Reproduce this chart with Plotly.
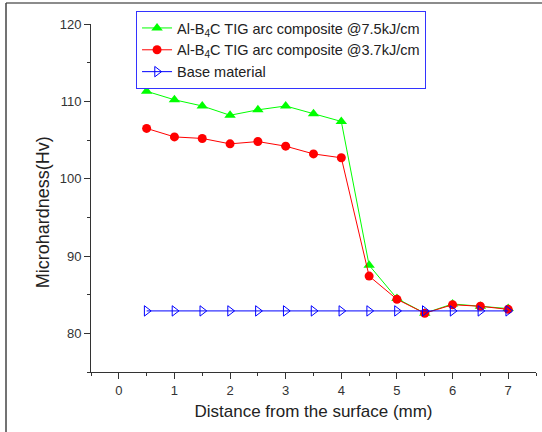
import plotly.graph_objects as go

x_vals = [0.5, 1, 1.5, 2, 2.5, 3, 3.5, 4, 4.5, 5, 5.5, 6, 6.5, 7]
hv_75 = [111.3, 110.2, 109.4, 108.2, 108.9, 109.4, 108.4, 107.4, 88.8, 84.5, 82.6, 83.8, 83.5, 83.2]
hv_37 = [106.5, 105.4, 105.2, 104.5, 104.8, 104.2, 103.2, 102.7, 87.4, 84.4, 82.6, 83.7, 83.5, 83.1]
hv_base = [82.9] * 14

names = ["Al-B<sub>4</sub>C TIG arc composite @7.5kJ/cm",
         "Al-B<sub>4</sub>C TIG arc composite @3.7kJ/cm",
         "Base material"]
x_title = "Distance from the surface (mm)"
y_title = "Microhardness(Hv)"

font = "Liberation Sans, Arial, sans-serif"
fig = go.Figure()
fig.add_trace(go.Scatter(x=x_vals, y=hv_75, name=names[0], mode="lines+markers",
                         line=dict(color="#00ff00", width=1),
                         marker=dict(symbol="triangle-up", size=10, color="#00ff00")))
fig.add_trace(go.Scatter(x=x_vals, y=hv_37, name=names[1], mode="lines+markers",
                         line=dict(color="#ff0000", width=1),
                         marker=dict(symbol="circle", size=9, color="#ff0000")))
fig.add_trace(go.Scatter(x=x_vals, y=hv_base, name=names[2], mode="lines+markers",
                         line=dict(color="#0000ff", width=1),
                         marker=dict(symbol="triangle-right-open", size=9, color="#0000ff", line=dict(width=1))))

axis_common = dict(showline=True, linecolor="#333", linewidth=1, ticks="outside",
                   ticklen=6, tickcolor="#333", showgrid=False, zeroline=False,
                   tickfont=dict(family=font, size=13, color="#333"), mirror=False)
fig.update_xaxes(range=[-0.5, 7.5], dtick=1, tick0=0,
                 minor=dict(dtick=0.5, ticks="outside", ticklen=3, tickcolor="#333"),
                 title=dict(text=x_title, font=dict(family=font, size=17, color="#222"), standoff=8),
                 **axis_common)
fig.update_yaxes(range=[75, 120], dtick=10, tick0=0,
                 minor=dict(dtick=5, ticks="outside", ticklen=3, tickcolor="#333"),
                 **axis_common)

fig.update_layout(
    width=542, height=432,
    margin=dict(l=91, r=6, t=24, b=60, autoexpand=False),
    paper_bgcolor="white", plot_bgcolor="white",
    showlegend=True,
    legend=dict(xref="container", yref="container", x=0.251, y=0.9745,
                xanchor="left", yanchor="top",
                bordercolor="#3333ff", borderwidth=1, bgcolor="white",
                font=dict(family=font, size=14.5, color="#222"),
                tracegroupgap=0, itemwidth=30, entrywidth=334, entrywidthmode="pixels"),
    annotations=[
        dict(text=y_title, textangle=-90, xref="paper", yref="paper",
             x=-0.1085, y=0.4583, xanchor="center", yanchor="middle", showarrow=False,
             font=dict(family=font, size=18, color="#222")),
    ],
    shapes=[
        dict(type="line", xref="paper", yref="paper", x0=-0.191, x1=1.02, y0=1.0603, y1=1.0603,
             line=dict(color="#666", width=1.5)),
        dict(type="line", xref="paper", yref="paper", x0=-0.191, x1=-0.191, y0=-0.2, y1=1.0603,
             line=dict(color="#444", width=1.5)),
    ],
)

fig.write_html("out.html", config={"displayModeBar": False},
               post_script="document.body.style.margin='0';")
